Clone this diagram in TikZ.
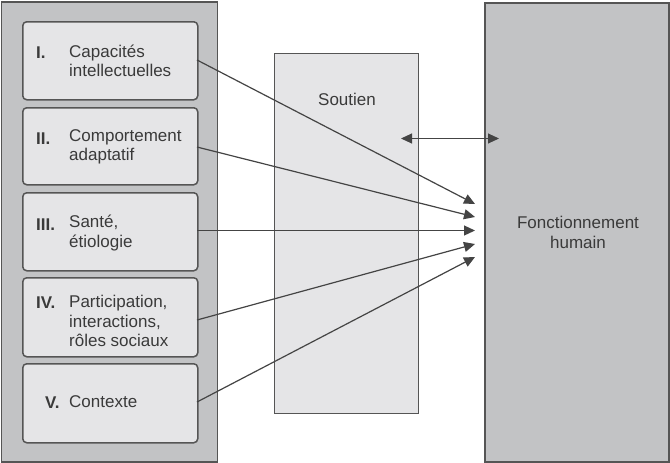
\documentclass[tikz,border=0pt]{standalone}
\usepackage{fontspec}
\setmainfont{Liberation Sans}
\usetikzlibrary{arrows.meta}
\definecolor{panel}{HTML}{C2C3C5}
\definecolor{boxfill}{HTML}{E5E5E7}
\definecolor{edge}{HTML}{555555}
\definecolor{ink}{HTML}{3A3A3A}
\definecolor{arrowc}{HTML}{444444}
\tikzset{
  panelbox/.style={draw=edge, fill=panel, line width=1.5pt, rectangle, inner sep=0pt, anchor=north west},
  itembox/.style={draw=edge, fill=boxfill, line width=1.5pt, rounded corners=4pt, rectangle, inner sep=0pt, minimum width=175pt, minimum height=78pt, anchor=north west},
  soutienbox/.style={draw=edge, fill=boxfill, line width=1.2pt, rectangle, inner sep=0pt, anchor=north west, minimum width=144pt, minimum height=360pt},
  label/.style={text=ink, font=\fontsize{17}{19.5}\selectfont, align=left, inner sep=0pt, anchor=west},
  numlabel/.style={text=ink, font=\fontsize{17}{19.5}\selectfont\bfseries, inner sep=0pt, anchor=base west},
  flow/.style={draw=arrowc, line width=1.2pt, -{Triangle[length=11pt,width=10pt]}},
  biflow/.style={draw=arrowc, line width=1pt, {Triangle[length=11pt,width=10pt]}-{Triangle[length=11pt,width=10pt]}}
}
\begin{document}
\begin{tikzpicture}[x=1pt,y=-1pt]
\useasboundingbox (0,0) rectangle (670,463);
\fill[white] (0,0) rectangle (670,463);
% left panel
\node[panelbox, minimum width=216pt, minimum height=460pt] (left) at (0.75,1) {};
% right panel
\node[panelbox, minimum width=184pt, minimum height=459pt] (fonc) at (484,2) {};
\node[text=ink, font=\fontsize{17}{20}\selectfont, align=center, inner sep=0pt] (fonclab) at (578,232) {Fonctionnement\\humain};
% soutien
\node[soutienbox] (sout) at (274,53) {};
\node[text=ink, font=\fontsize{17}{20}\selectfont, inner sep=0pt] (soutlab) at (347,99) {Soutien};
% item boxes
\node[itembox] (b1) at (22,21) {};
\node[itembox, minimum height=77pt] (b2) at (22,107) {};
\node[itembox] (b3) at (22,192) {};
\node[itembox, minimum height=79pt] (b4) at (22,277) {};
\node[itembox, minimum height=79pt] (b5) at (22,363) {};
% texts
\node[label] (l1) at (69,61) {Capacités\\intellectuelles};
\node[numlabel] (n1) at (36,58) {I.};
\node[label] (l2) at (69,147) {Comportement\\adaptatif};
\node[numlabel] (n2) at (36,144) {II.};
\node[label] (l3) at (69,233) {Santé,\\étiologie};
\node[numlabel] (n3) at (36,230) {III.};
\node[label] (l4) at (69,321) {Participation,\\interactions,\\rôles sociaux};
\node[numlabel] (n4) at (36,308) {IV.};
\node[label] (l5) at (69,402) {Contexte};
\node[numlabel] (n5) at (45,408) {V.};
% arrow targets
\coordinate (t1) at (475,204);
\coordinate (t2) at (475,217);
\coordinate (t3) at (475,230.5);
\coordinate (t4) at (475,244);
\coordinate (t5) at (475,257);
\coordinate (s1) at (197,60);
\coordinate (s2) at (197,147);
\coordinate (s3) at (197,230.5);
\coordinate (s4) at (197,320);
\coordinate (s5) at (197,402);
\draw[flow] (s1) -- (t1);
\draw[flow] (s2) -- (t2);
\draw[flow] (s3) -- (t3);
\draw[flow] (s4) -- (t4);
\draw[flow] (s5) -- (t5);
% double arrow
\coordinate (d1) at (401,138.5);
\coordinate (d2) at (499,138.5);
\draw[biflow] (d1) -- (d2);
\end{tikzpicture}
\end{document}
